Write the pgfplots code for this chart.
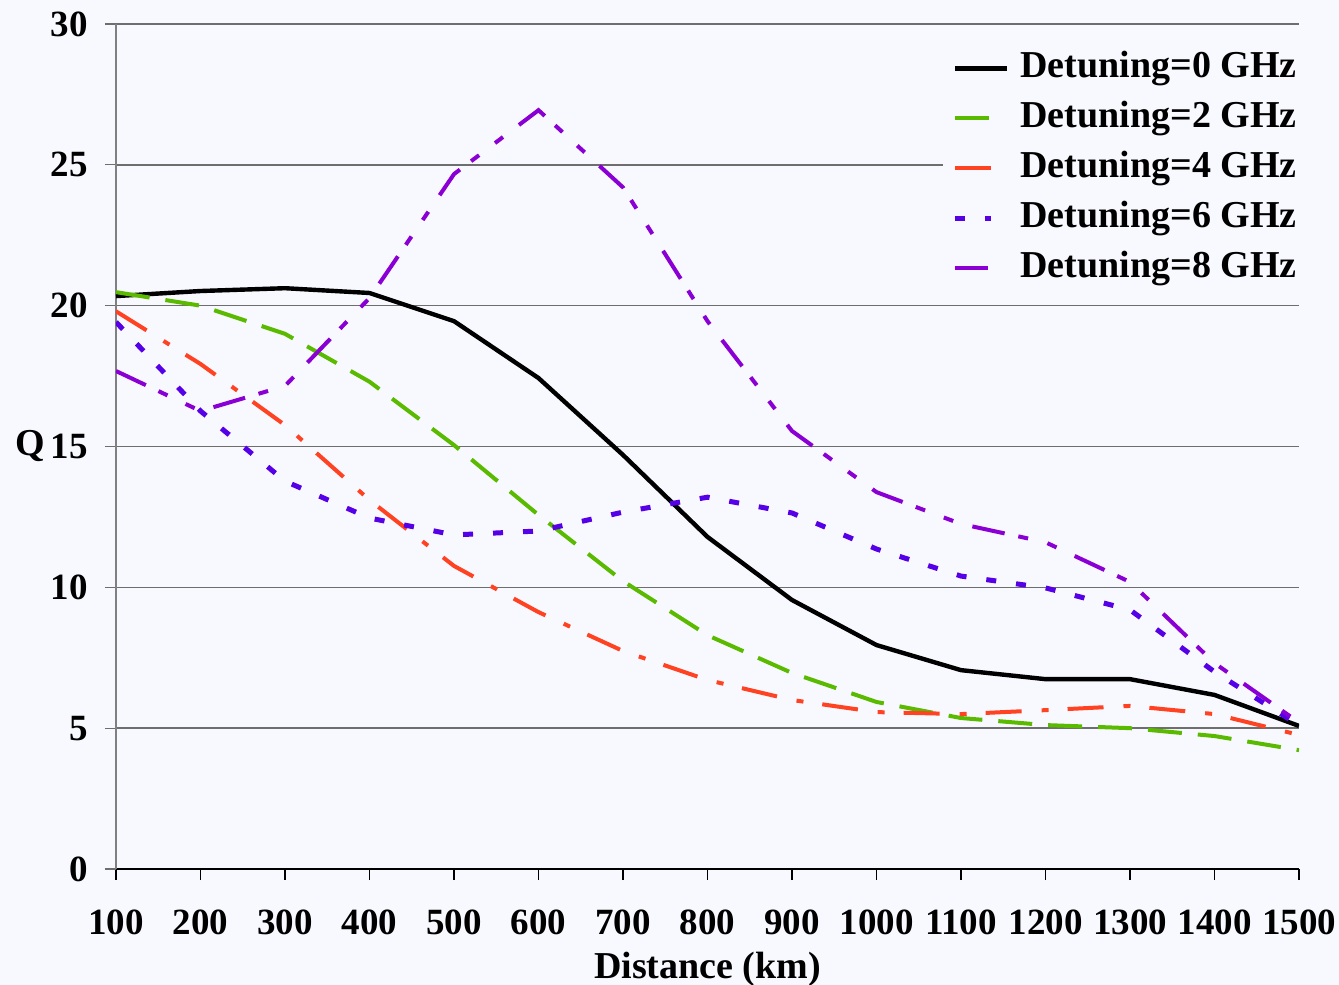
\documentclass[border=0pt]{standalone}
\usepackage{fontspec}
\setmainfont{Liberation Serif}
\usepackage{pgfplots}
\pgfplotsset{compat=1.18}
\usetikzlibrary{backgrounds}
\definecolor{bgcol}{RGB}{248,249,254}
\definecolor{cgreen}{RGB}{90,186,0}
\definecolor{cred}{RGB}{255,66,34}
\definecolor{cblue}{RGB}{86,0,232}
\definecolor{cpurple}{RGB}{138,0,212}
\definecolor{gridgray}{RGB}{110,110,110}
\pgfplotsset{
  shortleg/.style={legend image code/.code={\draw[##1] (0pt,0pt) -- (18pt,0pt); \path (31.5pt,0pt);}},
  longleg/.style={legend image code/.code={\draw[##1] (0pt,0pt) -- (26pt,0pt); \path (31.5pt,0pt);}},
}
\begin{document}
\begin{tikzpicture}
\begin{axis}[
  scale only axis,
  width=591.5pt, height=422.5pt,
  xmin=100, xmax=1500, ymin=0, ymax=30,
  xtick={100,200,...,1500},
  ytick={0,5,...,30},
  clip mode=individual,
  axis x line=bottom, axis y line=left,
  x axis line style={-, black, line width=1pt},
  y axis line style={-, gray, line width=1pt},
  tick align=outside,
  major tick length=5.5pt,
  x tick style={black, line width=0.6pt},
  y tick style={gridgray, line width=0.6pt},
  ymajorgrids,
  major grid style={gridgray, line width=0.8pt},
  /pgf/number format/1000 sep={},
  /pgf/number format/assume math mode=true,
  tick label style={font=\fontsize{18.5}{20}\selectfont\bfseries},
  xticklabel style={inner sep=0pt, yshift=-14.5pt},
  yticklabel style={inner sep=0pt, xshift=-8.5pt},
  legend style={draw=none, fill=bgcol, at={(axis description cs:1,1)}, anchor=north east,
    xshift=4pt, yshift=-8.5pt, inner sep=5pt, row sep=8pt,
    font=\fontsize{19}{21}\selectfont\bfseries,
    nodes={inner sep=0pt, text height=13pt, text depth=4pt}},
  legend cell align=left,
  shortleg,
]
\addplot[black, line width=2.2pt, longleg] coordinates {
(100,20.34) (200,20.52) (300,20.62) (400,20.45) (500,19.45) (600,17.43) (700,14.7) (800,11.79) (900,9.55) (1000,7.95) (1100,7.06) (1200,6.74) (1300,6.74) (1400,6.18) (1500,5.08)};
\addlegendentry{Detuning=0 GHz}
\addplot[cgreen, line width=2pt, dash pattern=on 17pt off 8pt] coordinates {
(100,20.48) (200,20.0) (300,19.0) (400,17.3) (500,15.05) (600,12.57) (700,10.22) (800,8.3) (900,6.96) (1000,5.93) (1100,5.36) (1200,5.11) (1300,5.0) (1400,4.72) (1500,4.22)};
\addlegendentry{Detuning=2 GHz}
\addplot[cred, line width=2pt, dash pattern=on 18pt off 10pt on 3.5pt off 9.5pt] coordinates {
(100,19.8) (200,17.93) (300,15.76) (400,13.1) (500,10.76) (600,9.12) (700,7.74) (800,6.71) (900,6.0) (1000,5.57) (1100,5.5) (1200,5.64) (1300,5.79) (1400,5.5) (1500,4.76)};
\addlegendentry{Detuning=4 GHz}
\addplot[cblue, line width=2.5pt, dash pattern=on 5pt off 10pt] coordinates {
(100,19.42) (200,16.26) (300,13.77) (400,12.46) (500,11.86) (600,12.0) (700,12.67) (800,13.2) (900,12.64) (1000,11.36) (1100,10.4) (1200,9.98) (1300,9.2) (1400,7.0) (1500,5.1)};
\addlegendentry{Detuning=6 GHz}
\addplot[cpurple, line width=2pt, dash pattern=on 16.5pt off 7pt on 5pt off 10pt on 5pt off 10pt] coordinates {
(100,17.68) (200,16.26) (300,17.15) (400,20.27) (500,24.67) (600,26.94) (700,24.2) (800,19.45) (900,15.55) (1000,13.38) (1100,12.25) (1200,11.6) (1300,10.19) (1400,7.31) (1500,5.2)};
\addlegendentry{Detuning=8 GHz}
\node[font=\fontsize{19}{21}\selectfont\bfseries, inner sep=0pt] at (axis description cs:0,0.5) [xshift=-43pt] {Q};
\node[font=\fontsize{19}{21}\selectfont\bfseries, inner sep=0pt, anchor=base] at (axis description cs:0.5,0) [yshift=-54.5pt] {Distance (km)};
\end{axis}
\pgfresetboundingbox
\begin{scope}[on background layer]
\fill[bgcol] (-58pt,-58pt) rectangle (611.5pt,434.5pt);
\end{scope}
\end{tikzpicture}
\end{document}
